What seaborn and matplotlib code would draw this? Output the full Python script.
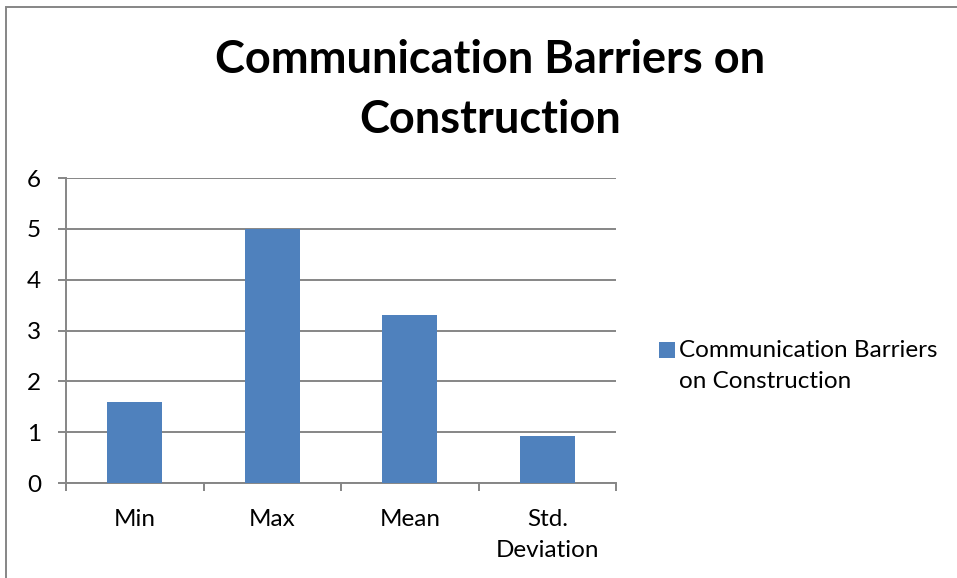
import matplotlib
matplotlib.use("Agg")
import matplotlib.pyplot as plt
import seaborn as sns
import pandas as pd
from matplotlib.patches import Rectangle, Patch

categories = ["Min", "Max", "Mean", "Std.\nDeviation"]
values = [1.6, 5.0, 3.3, 0.92]
series_name = "Communication Barriers\non Construction"
title = "Communication Barriers on\nConstruction"
yticks = [0, 1, 2, 3, 4, 5, 6]

sns.set_style("white")
plt.rcParams["font.family"] = ["Lato", "DejaVu Sans"]
plt.rcParams["text.color"] = "black"
plt.rcParams["xtick.color"] = "black"
plt.rcParams["ytick.color"] = "black"

W, H = 957, 578
fig = plt.figure(figsize=(W / 100, H / 100), dpi=100)
ax = fig.add_axes([66 / W, 1 - 483 / H, 550 / W, 305 / H])

df = pd.DataFrame({"cat": categories, "val": values})
sns.barplot(data=df, x="cat", y="val", color="#4F81BD", saturation=1,
            width=0.4, ax=ax, zorder=3)
for p in ax.patches:
    p.set_edgecolor("none")

grid_c = "#868686"
ax.set_xlim(-0.5, len(categories) - 0.5)
ax.set_ylim(0, 6)
ax.set_yticks(yticks)
ax.set_yticklabels([str(v) for v in yticks])
ax.yaxis.grid(True, color=grid_c, linewidth=1.4, zorder=0)
ax.set_axisbelow(True)
for s in ["top", "right"]:
    ax.spines[s].set_visible(False)
for s in ["left", "bottom"]:
    ax.spines[s].set_color(grid_c)
    ax.spines[s].set_linewidth(1.4)
ax.set_xlabel("")
ax.set_ylabel("")
ax.tick_params(axis="y", which="major", length=6, width=1.4, color=grid_c,
               labelsize=17.5, pad=12, direction="out", left=True,
               labelcolor="black")
ax.tick_params(axis="x", which="major", length=0, labelsize=17.5, pad=19,
               labelcolor="black")
ax.set_xticks([i - 0.5 for i in range(len(categories) + 1)], minor=True)
ax.tick_params(axis="x", which="minor", length=6, width=1.4, color=grid_c,
               direction="out", bottom=True)
for lab in ax.get_xticklabels():
    lab.set_linespacing(1.58)

fig.text(490 / W, 1 - 90 / H, title, ha="center", va="center",
         fontsize=32.5, fontweight="bold", linespacing=1.52, color="black")

handle = Patch(facecolor="#4F81BD", edgecolor="none")
leg = fig.legend([handle], [series_name], loc="center left",
                 bbox_to_anchor=(659 / W, 1 - 366 / H), frameon=False,
                 fontsize=17.5, handlelength=0.65, handleheight=0.65,
                 handletextpad=0.18, borderaxespad=0, borderpad=0)
for t in leg.get_texts():
    t.set_linespacing(1.6)
    t.set_color("black")
for h in leg.legend_handles:
    h.set_y(h.get_y() + 11.5)

fig.patches.append(Rectangle((6 / W, -0.1), 1.2, 1 - 7 / H + 0.1,
                             transform=fig.transFigure, fill=False,
                             edgecolor=grid_c, linewidth=1.4))

fig.savefig("out.png", dpi=100)
